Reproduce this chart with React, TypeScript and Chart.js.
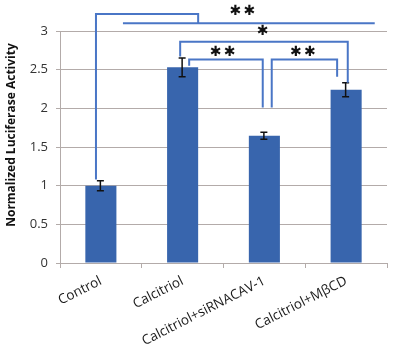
import React, { useEffect, useRef } from "react";
import { Chart, registerables } from "chart.js";

Chart.register(...registerables);

// ---- data ----
const categories = ["Control", "Calcitriol", "Calcitriol+siRNACAV-1", "Calcitriol+MβCD"];
const values = [1.0, 2.53, 1.645, 2.24];
const errors = [0.065, 0.12, 0.045, 0.09];
const yMin = 0;
const yMax = 3;
const yStep = 0.5;
const yTitle = "Normalized Luciferase Activity";

// significance annotations: paths in (category index, value) units
const bracketPaths: [number, number][][] = [
  [[-0.06, 1.08], [-0.06, 3.22], [1.19, 3.22], [1.19, 3.1]],
  [[0.27, 3.1], [3.35, 3.1]],
  [[0.97, 2.67], [0.97, 2.86], [3.02, 2.86], [3.02, 2.33]],
  [[1.08, 2.55], [1.08, 2.63], [1.98, 2.63], [1.98, 2.01]],
  [[2.09, 2.01], [2.09, 2.63], [2.89, 2.63], [2.89, 2.41]],
];
const starLabels: { x: number; y: number; n: number }[] = [
  { x: 1.73, y: 3.25, n: 2 },
  { x: 1.98, y: 2.99, n: 1 },
  { x: 1.49, y: 2.73, n: 2 },
  { x: 2.47, y: 2.73, n: 2 },
];

const BAR_COLOR = "#3865ad";
const LINE_COLOR = "#4a76c6";
const GRID_COLOR = "#b3aba9";

const overlayPlugin = {
  id: "overlay",
  afterDatasetsDraw(chart: any) {
    const { ctx, scales } = chart;
    const xs = scales.x;
    const ys = scales.y;
    ctx.save();
    // error bars
    ctx.strokeStyle = "#111";
    ctx.lineWidth = 1.5;
    values.forEach((v, i) => {
      const px = xs.getPixelForValue(i) - 0.5;
      const top = ys.getPixelForValue(v + errors[i]);
      const bot = ys.getPixelForValue(v - errors[i]);
      ctx.beginPath();
      ctx.moveTo(px, top);
      ctx.lineTo(px, bot);
      ctx.moveTo(px - 3.5, top);
      ctx.lineTo(px + 3.5, top);
      ctx.moveTo(px - 3.5, bot);
      ctx.lineTo(px + 3.5, bot);
      ctx.stroke();
    });
    // brackets
    ctx.strokeStyle = LINE_COLOR;
    ctx.lineWidth = 2;
    ctx.lineJoin = "miter";
    bracketPaths.forEach((path) => {
      ctx.beginPath();
      path.forEach(([cx, cy], k) => {
        const px = xs.getPixelForValue(cx);
        const py = ys.getPixelForValue(cy);
        if (k === 0) ctx.moveTo(px, py);
        else ctx.lineTo(px, py);
      });
      ctx.stroke();
    });
    // stars
    ctx.fillStyle = "#111";
    ctx.font = "14px 'DejaVu Sans'";
    ctx.textAlign = "center";
    ctx.textBaseline = "middle";
    starLabels.forEach((s) => {
      const px = xs.getPixelForValue(s.x);
      const py = ys.getPixelForValue(s.y);
      for (let k = 0; k < s.n; k++) {
        const off = (k - (s.n - 1) / 2) * 14;
        ctx.fillText("\u2731", px + off, py);
      }
    });
    // y axis title
    ctx.fillStyle = "#111";
    ctx.font = "bold 12px 'Open Sans'";
    ctx.translate(12, (ys.top + ys.bottom) / 2 - 12);
    ctx.rotate(-Math.PI / 2);
    ctx.fillText(yTitle, 0, 0);
    ctx.restore();
  },
};

export default function App() {
  const ref = useRef<HTMLCanvasElement>(null);
  useEffect(() => {
    if (!ref.current) return;
    const chart = new Chart(ref.current, {
      type: "bar",
      data: {
        labels: categories,
        datasets: [
          {
            data: values,
            backgroundColor: BAR_COLOR,
            borderWidth: 0,
            categoryPercentage: 1,
            barPercentage: 0.38,
          },
        ],
      },
      options: {
        responsive: false,
        animation: false,
        layout: { padding: { top: 31, right: 13, left: 0, bottom: 0 } },
        plugins: { legend: { display: false }, tooltip: { enabled: false } },
        scales: {
          x: {
            afterFit: (s: any) => {
              s.height = 86;
            },
            grid: {
              offset: true,
              drawOnChartArea: false,
              drawTicks: true,
              tickLength: 5,
              color: GRID_COLOR,
            },
            border: { color: GRID_COLOR, width: 1 },
            ticks: {
              minRotation: 27,
              maxRotation: 27,
              autoSkip: false,
              padding: 5,
              color: "#1a1a1a",
              font: { family: "'Open Sans'", size: 13.5 },
            },
          },
          y: {
            min: yMin,
            max: yMax,
            afterFit: (s: any) => {
              s.width = 60;
            },
            grid: { color: GRID_COLOR, tickLength: 4 },
            border: { color: GRID_COLOR, width: 1 },
            ticks: {
              stepSize: yStep,
              padding: 8,
              color: "#333",
              font: { family: "'Open Sans'", size: 13 },
              callback: (v: any) => String(Number(v)),
            },
          },
        },
      },
      plugins: [overlayPlugin],
    });
    return () => chart.destroy();
  }, []);
  return (
    <div style={{ position: "absolute", left: 0, top: 0, width: 400, height: 349, background: "#fff" }}>
      <canvas ref={ref} width={400} height={349} />
    </div>
  );
}
